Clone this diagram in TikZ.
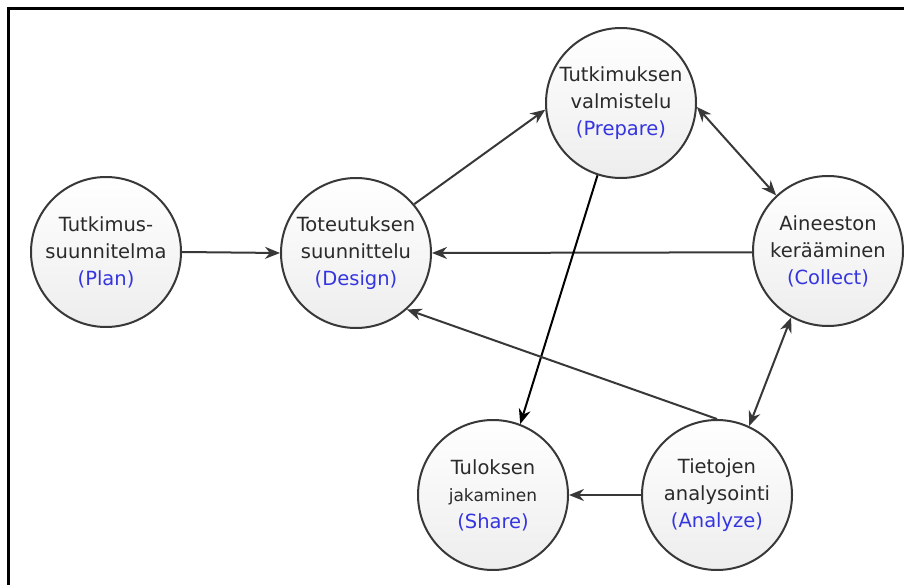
\documentclass[tikz,border=0pt]{standalone}
\usepackage{fontspec}
\setmainfont{DejaVu Sans}
\usetikzlibrary{arrows.meta}
\definecolor{edge}{HTML}{383838}
\definecolor{txt}{HTML}{2A2A2A}
\definecolor{lbl}{HTML}{3535E0}
\tikzset{
  phase/.style={circle, draw=edge, line width=2pt, minimum size=150pt, inner sep=0pt,
    top color=white, bottom color=gray!14, text=txt, font=\fontsize{19.5}{27}\selectfont, align=center},
  conn/.style={draw=edge, line width=2pt, -{Stealth[length=15pt,width=12pt]}},
  bi/.style={draw=edge, line width=2pt, {Stealth[length=15pt,width=12pt]}-{Stealth[length=15pt,width=12pt]}},
  frame/.style={line width=3pt, black}
}
\newcommand{\en}[1]{\textcolor{lbl}{#1}}
\begin{document}
\begin{tikzpicture}[x=1pt,y=-1pt]
\useasboundingbox (0,0) rectangle (904,585);
\coordinate (fa) at (8,585);
\coordinate (fb) at (8,9);
\coordinate (fc) at (904,9);
\draw[frame] (fa) -- (fb) -- (fc);
\node[phase] (plan) at (106,252) {Tutkimus-\\suunnitelma\\\en{(Plan)}};
\node[phase] (design) at (356,253) {Toteutuksen\\suunnittelu\\\en{(Design)}};
\node[phase] (prepare) at (621,103) {Tutkimuksen\\valmistelu\\\en{(Prepare)}};
\node[phase] (collect) at (828,251) {Aineeston\\kerääminen\\\en{(Collect)}};
\node[phase] (share) at (493,495) {Tuloksen\\{\fontsize{17}{27}\selectfont jakaminen}\\\en{(Share)}};
\node[phase] (analyze) at (717,495) {Tietojen\\analysointi\\\en{(Analyze)}};
\draw[conn] (plan.east) -- (design.west);
\draw[conn] (design.40) -- (prepare.185);
\draw[bi] (prepare.357) -- (collect.133);
\draw[conn] (collect.181) -- (design.0);
\draw[conn, draw=black] (prepare.252) -- (share.69);
\draw[conn] (analyze.90) -- (design.312);
\draw[bi] (collect.241) -- (analyze.65);
\draw[conn] (analyze.west) -- (share.east);
\end{tikzpicture}
\end{document}
